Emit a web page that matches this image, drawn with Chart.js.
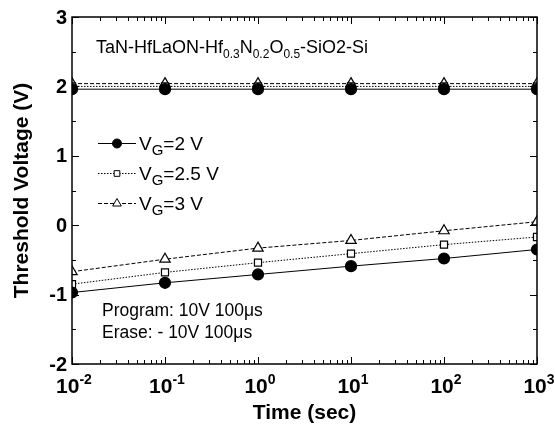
<!DOCTYPE html>
<html>
<head>
<meta charset="utf-8">
<script src="https://cdn.jsdelivr.net/npm/chart.js@4.4.1/dist/chart.umd.min.js"></script>
<style>
  body { margin: 0; background: #fff; }
  canvas { display: block; }
</style>
</head>
<body>
<canvas id="vt-chart" width="555" height="426"></canvas>
<script>
// DATA
const times = [0.01, 0.1, 1, 10, 100, 1000]

// program state (around 2 V)
const prog_vg2 = [1.96, 1.96, 1.96, 1.96, 1.96, 1.96]
const prog_vg25 = [2.0, 2.0, 2.0, 2.0, 2.0, 2.0]
const prog_vg3 = [2.04, 2.04, 2.04, 2.04, 2.04, 2.04]

// erase state
const erase_vg2 = [-0.97, -0.83, -0.71, -0.59, -0.48, -0.35]
const erase_vg25 = [-0.85, -0.68, -0.54, -0.41, -0.28, -0.17]
const erase_vg3 = [-0.67, -0.49, -0.33, -0.22, -0.08, 0.05]

const legendNames = ["2 V", "2.5 V", "3 V"]
const yTicks = [-2, -1, 0, 1, 2, 3]
const xTickExponents = [-2, -1, 0, 1, 2, 3]

const FONT = "'Liberation Sans', Arial, sans-serif"

// STYLES PER GATE VOLTAGE
const styles = [
  { pointStyle: "circle", radius: 5.5, legendRadius: 4.5, fill: "#000", dash: [] },
  { pointStyle: "rect", radius: 5, legendRadius: 4, fill: "#fff", dash: [1.5, 1.5] },
  { pointStyle: "triangle", radius: 6, legendRadius: 5, fill: "#fff", dash: [4, 2] },
]

function toPoints(values) {
  return values.map((v, i) => ({ x: times[i], y: v }))
}

function makeDataset(values, s, label) {
  return {
    label: label,
    data: toPoints(values),
    borderColor: "#000",
    backgroundColor: s.fill,
    borderWidth: 1,
    borderDash: s.dash,
    pointStyle: s.pointStyle,
    pointRadius: s.radius,
    pointBackgroundColor: s.fill,
    pointBorderColor: "#000",
    pointBorderWidth: 1.2,
    fill: false,
    tension: 0,
  }
}

const datasets = [
  makeDataset(prog_vg2, styles[0], "p2"),
  makeDataset(prog_vg25, styles[1], "p25"),
  makeDataset(prog_vg3, styles[2], "p3"),
  makeDataset(erase_vg2, styles[0], "e2"),
  makeDataset(erase_vg25, styles[1], "e25"),
  makeDataset(erase_vg3, styles[2], "e3"),
]

// draw text with sub/superscript parts: [text, size, dy]
function drawRuns(ctx, runs, x, y, bold) {
  let cx = x
  runs.forEach((r) => {
    ctx.font = (bold ? "bold " : "") + r[1] + "px " + FONT
    ctx.fillText(r[0], cx, y + r[2])
    cx += ctx.measureText(r[0]).width
  })
  return cx
}

function runsWidth(ctx, runs, bold) {
  let w = 0
  runs.forEach((r) => {
    ctx.font = (bold ? "bold " : "") + r[1] + "px " + FONT
    w += ctx.measureText(r[0]).width
  })
  return w
}

// AXES, FRAME, LABELS, LEGEND
const decorPlugin = {
  id: "decor",
  afterDatasetsDraw(chart) {
    const ctx = chart.ctx
    const area = chart.chartArea
    const xs = chart.scales.x
    const ys = chart.scales.y
    ctx.save()
    ctx.strokeStyle = "#000"
    ctx.fillStyle = "#000"

    // frame
    ctx.lineWidth = 1.5
    ctx.strokeRect(area.left, area.top, area.right - area.left, area.bottom - area.top)

    // y ticks (major + half minor)
    ctx.lineWidth = 1
    ctx.beginPath()
    for (let v = -2; v <= 3; v += 0.5) {
      const py = Math.round(ys.getPixelForValue(v)) + 0.5
      const len = Number.isInteger(v) ? 7 : 4
      ctx.moveTo(area.left, py)
      ctx.lineTo(area.left + len, py)
      ctx.moveTo(area.right, py)
      ctx.lineTo(area.right - len, py)
    }
    // x ticks (decades + minor)
    xTickExponents.forEach((e) => {
      for (let m = 1; m <= 9; m++) {
        if (e === 3 && m > 1) break
        const px = Math.round(xs.getPixelForValue(m * Math.pow(10, e))) + 0.5
        const len = m === 1 ? 7 : 4
        ctx.moveTo(px, area.bottom)
        ctx.lineTo(px, area.bottom - len)
        ctx.moveTo(px, area.top)
        ctx.lineTo(px, area.top + len)
      }
    })
    ctx.stroke()

    // y tick labels
    ctx.font = "bold 20px " + FONT
    ctx.textAlign = "right"
    ctx.textBaseline = "middle"
    yTicks.forEach((v) => {
      ctx.fillText(String(v), area.left - 5, ys.getPixelForValue(v) + 1)
    })

    // x tick labels 10^n
    ctx.textAlign = "left"
    ctx.textBaseline = "alphabetic"
    xTickExponents.forEach((e) => {
      const runs = [["10", 21, 0], [String(e), 14, -9]]
      const w = runsWidth(ctx, runs, true)
      const px = xs.getPixelForValue(Math.pow(10, e))
      drawRuns(ctx, runs, px - w / 2 + 2, area.bottom + 29, true)
    })

    // axis titles
    ctx.font = "bold 21px " + FONT
    ctx.textAlign = "center"
    ctx.fillText("Time (sec)", (area.left + area.right) / 2, 419)
    ctx.save()
    ctx.translate(28, (area.top + area.bottom) / 2)
    ctx.rotate(-Math.PI / 2)
    ctx.fillText("Threshold Voltage (V)", 0, 0)
    ctx.restore()

    // structure annotation
    ctx.textAlign = "left"
    drawRuns(ctx, [
      ["TaN-HfLaON-Hf", 18, 0], ["0.3", 12, 5], ["N", 18, 0], ["0.2", 12, 5],
      ["O", 18, 0], ["0.5", 12, 5], ["-SiO2-Si", 18, 0],
    ], 96, 53, false)

    // pulse conditions
    ctx.font = "17.5px " + FONT
    ctx.fillText("Program: 10V 100\u03bcs", 102, 316)
    ctx.fillText("Erase: - 10V 100\u03bcs", 102, 338)

    // legend
    const rowY = [143, 173, 203]
    legendNames.forEach((name, i) => {
      const s = styles[i]
      const y = rowY[i]
      ctx.lineWidth = 1
      ctx.strokeStyle = "#000"
      ctx.setLineDash(s.dash)
      ctx.beginPath()
      ctx.moveTo(98, y + 0.5)
      ctx.lineTo(136, y + 0.5)
      ctx.stroke()
      ctx.setLineDash([])
      ctx.fillStyle = s.fill
      Chart.helpers.drawPoint(ctx, {
        pointStyle: s.pointStyle,
        radius: s.legendRadius,
        borderWidth: 1.2,
      }, 117, y + 0.5)
      ctx.fillStyle = "#000"
      drawRuns(ctx, [["V", 19, 0], ["G", 15, 5], ["=" + name, 19, 0]], 139, y + 7, false)
    })

    ctx.restore()
  },
}

const ctx = document.getElementById("vt-chart").getContext("2d")

new Chart(ctx, {
  type: "line",
  data: { datasets: datasets },
  options: {
    responsive: false,
    animation: false,
    devicePixelRatio: 1,
    layout: { padding: { left: 72, right: 18, top: 17, bottom: 62 } },
    plugins: {
      legend: { display: false },
      tooltip: { enabled: false },
    },
    scales: {
      x: { type: "logarithmic", min: 0.01, max: 1000, display: false },
      y: { type: "linear", min: -2, max: 3, display: false },
    },
  },
  plugins: [decorPlugin],
})
</script>
</body>
</html>
